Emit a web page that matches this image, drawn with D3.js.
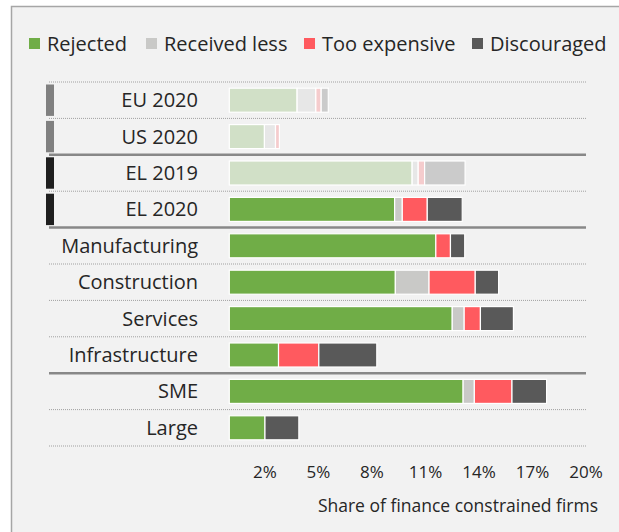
<!DOCTYPE html>
<html>
<head>
<meta charset="utf-8">
<script src="https://cdnjs.cloudflare.com/ajax/libs/d3/7.8.5/d3.min.js"></script>
<style>
  body { margin: 0; background: #fff; }
  text { font-family: "Open Sans", "Noto Sans", sans-serif; fill: #262626; }
</style>
</head>
<body>
<div class="chart"></div>
<script>
// Chart data
var categories = ["EU 2020", "US 2020", "EL 2019", "EL 2020", "Manufacturing", "Construction", "Services", "Infrastructure", "SME", "Large"];
var seriesNames = ["Rejected", "Received less", "Too expensive", "Discouraged"];
var rejected     = [3.8, 1.97, 10.25, 9.27, 11.58, 9.31, 12.5, 2.76, 13.11, 2.0];
var receivedLess = [1.05, 0.62, 0.34, 0.43, 0, 1.89, 0.67, 0, 0.63, 0];
var tooExpensive = [0.3, 0.22, 0.36, 1.4, 0.82, 2.59, 0.91, 2.26, 2.11, 0];
var discouraged  = [0.4, 0, 2.27, 1.96, 0.8, 1.31, 1.85, 3.25, 1.94, 1.9];
var tickValues = [2, 5, 8, 11, 14, 17, 20];

// row groups (a solid rule goes between groups)
var groups = [["EU 2020", "US 2020"], ["EL 2019", "EL 2020"],
              ["Manufacturing", "Construction", "Services", "Infrastructure"], ["SME", "Large"]];
var fadedRows = ["EU 2020", "US 2020", "EL 2019"];
var greyMarkRows = ["EU 2020", "US 2020"];
var darkMarkRows = ["EL 2019", "EL 2020"];

var colors = ["#70ad47", "#c9c9c7", "#ff5a5f", "#595959"];

var svgWidth = 619;
var svgHeight = 532;

var svg = d3.select(".chart").append("svg")
  .attr("width", svgWidth)
  .attr("height", svgHeight);

// panel background and frame
svg.append("rect").attr("x", 11).attr("y", 6).attr("width", svgWidth).attr("height", svgHeight)
  .attr("fill", "#f2f2f2");
svg.append("path").attr("d", "M11.5," + svgHeight + "V6.5H" + svgWidth)
  .attr("fill", "none").attr("stroke", "#a6a6a6").attr("stroke-width", 1.5);

// build table for the stack
var table = categories.map(function(c, i) {
  return {cat: c, "Rejected": rejected[i], "Received less": receivedLess[i],
          "Too expensive": tooExpensive[i], "Discouraged": discouraged[i]};
});
var stacked = d3.stack().keys(seriesNames)(table);

var x = d3.scaleLinear().domain([0, 20]).range([229.3, 586]);
var y = d3.scaleBand().domain(categories).range([82, 446]).padding(0);
var barH = y.bandwidth() * 0.66;

// separators
var ruleX0 = 49, ruleX1 = x(20);
var lastInGroup = groups.slice(0, -1).map(function(g) { return g[g.length - 1]; });
svg.append("line").attr("x1", ruleX0).attr("x2", ruleX1).attr("y1", y.range()[0]).attr("y2", y.range()[0])
  .attr("stroke", "#a0a0a0").attr("stroke-width", 1).attr("stroke-dasharray", "1,1");
categories.forEach(function(c) {
  var yy = y(c) + y.bandwidth();
  var solid = lastInGroup.indexOf(c) >= 0;
  svg.append("line")
    .attr("x1", ruleX0).attr("x2", ruleX1).attr("y1", yy).attr("y2", yy)
    .attr("stroke", solid ? "#888888" : "#a0a0a0")
    .attr("stroke-width", solid ? 2.5 : 1)
    .attr("stroke-dasharray", solid ? null : "1,1");
});

// left markers
svg.selectAll(".mark")
  .data(categories.filter(function(c) { return greyMarkRows.indexOf(c) >= 0 || darkMarkRows.indexOf(c) >= 0; }))
  .enter().append("rect")
  .attr("x", 46).attr("width", 8)
  .attr("y", function(c) { return y(c) + 2.5; })
  .attr("height", y.bandwidth() - 5)
  .attr("fill", function(c) { return greyMarkRows.indexOf(c) >= 0 ? "#808080" : "#1f1f1f"; });

// bars
var layers = svg.selectAll(".layer").data(stacked).enter().append("g")
  .attr("class", "layer");
layers.selectAll("rect")
  .data(function(d) { return d.map(function(p) { p.key = d.key; return p; }); })
  .enter().append("rect")
  .filter(function(d) { return d[1] - d[0] > 0; })
  .attr("x", function(d) { return x(d[0]); })
  .attr("width", function(d) { return x(d[1]) - x(d[0]); })
  .attr("y", function(d) { return y(d.data.cat) + (y.bandwidth() - barH) / 2; })
  .attr("height", barH)
  .attr("fill", function(d) { return colors[seriesNames.indexOf(d.key)]; })
  .attr("fill-opacity", function(d) { return fadedRows.indexOf(d.data.cat) >= 0 ? 0.25 : 1; })
  .attr("stroke", "#ffffff")
  .attr("stroke-width", 1.2);

// row labels
svg.selectAll(".rowlabel").data(categories).enter().append("text")
  .attr("x", 198)
  .attr("y", function(c) { return y(c) + y.bandwidth() / 2; })
  .attr("dy", "0.35em")
  .attr("text-anchor", "end")
  .style("font-size", "20px")
  .text(function(c) { return c; });

// x axis (labels only)
var bottomAxis = d3.axisBottom(x).tickValues(tickValues)
  .tickFormat(function(d) { return d + "%"; }).tickSize(0).tickPadding(0);
var axisG = svg.append("g").attr("transform", "translate(-0.5,466)").call(bottomAxis);
axisG.select(".domain").remove();
axisG.selectAll("text").style("font-size", "17px").style("font-family", "'Open Sans', sans-serif")
  .attr("fill", "#262626");

svg.append("text")
  .attr("x", 598).attr("y", 512)
  .attr("text-anchor", "end")
  .style("font-size", "17.5px")
  .text("Share of finance constrained firms");

// legend
var legendX = [29, 146, 304, 472];
var legend = svg.selectAll(".legend").data(seriesNames).enter().append("g")
  .attr("transform", function(d, i) { return "translate(" + legendX[i] + ",38)"; });
legend.append("rect").attr("width", 11).attr("height", 11)
  .attr("fill", function(d, i) { return colors[i]; });
legend.append("text").attr("x", 18).attr("y", 6).attr("dy", "0.35em")
  .style("font-size", "20px")
  .text(function(d) { return d; });
</script>
</body>
</html>
